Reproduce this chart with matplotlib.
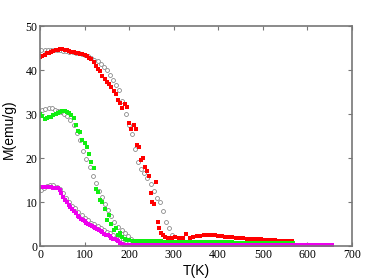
import numpy as np
import matplotlib.pyplot as plt

# red squares (filled)
t_red = [0, 5, 10, 15, 20, 25, 30, 35, 40, 45, 50, 55, 60, 65, 70, 75, 80, 85, 90, 95,
         100, 105, 110, 115, 120, 125, 130, 135, 140, 145, 150, 155, 160, 165, 170, 175,
         180, 185, 190, 195, 200, 205, 210, 215, 218, 222, 226, 230, 235, 240, 245, 248,
         252, 256, 260, 264, 268, 272, 276,
         280, 288, 296, 304, 312, 320, 328, 336, 344, 352, 360, 368, 376, 384, 392, 400,
         408, 416, 424, 432, 440, 448, 456, 464, 472, 480, 488, 496, 504, 512, 520, 528,
         536, 544, 552, 560, 566]
m_red = [43.0, 43.2, 43.5, 43.8, 44.0, 44.2, 44.4, 44.5, 44.6, 44.8, 44.7, 44.6, 44.5, 44.4,
         44.2, 44.1, 44.0, 43.9, 43.7, 43.6, 43.4, 43.2, 42.8, 42.5, 41.8, 41.0, 40.2, 39.8,
         38.6, 38.0, 37.4, 36.8, 36.2, 35.2, 34.6, 33.2, 32.6, 31.4, 32.2, 31.5, 28.0, 26.5,
         27.5, 26.5, 23.0, 22.5, 19.5, 20.0, 18.0, 17.0, 16.0, 12.0, 10.0, 9.5, 14.5, 5.5,
         4.0, 3.0, 2.5,
         2.0, 1.9, 1.8, 2.0, 1.9, 1.8, 2.7, 1.9, 2.0, 2.2, 2.3, 2.5, 2.4, 2.6, 2.4, 2.3,
         2.2, 2.1, 2.0, 2.0, 1.9, 1.8, 1.8, 1.7, 1.6, 1.6, 1.5, 1.5, 1.4, 1.4, 1.3, 1.3,
         1.2, 1.2, 1.2, 1.1, 1.1]

# red open circles
t_red_o = [3, 10, 17, 24, 31, 38, 45, 52, 59, 66, 73, 80, 87, 94, 101, 108, 115, 122, 129,
           136, 143, 150, 157, 164, 171, 178, 185, 192, 199, 206, 213, 220, 227, 234, 241,
           248, 255, 262, 269, 276, 283, 290, 297, 304, 311, 318, 325, 332]
m_red_o = [44.5, 44.6, 44.6, 44.6, 44.6, 44.6, 44.5, 44.4, 44.3, 44.2, 44.1, 44.0, 43.8,
           43.6, 43.4, 43.1, 42.8, 42.4, 42.0, 41.5, 40.8, 40.0, 39.0, 37.8, 36.6, 35.4,
           33.0, 30.0, 27.5, 25.5, 22.0, 19.0, 17.5, 16.5, 15.5, 14.0, 12.5, 11.0, 10.0,
           8.0, 5.5, 4.0, 2.5, 1.6, 1.2, 1.0, 0.9, 0.9]

# green squares
t_grn = [0, 5, 10, 15, 20, 25, 30, 35, 40, 45, 50, 55, 60, 65, 70, 75, 80, 85, 90, 95,
         100, 105, 110, 115, 120, 125, 130, 135, 140, 145, 150, 155, 160, 165, 170, 175,
         180, 185, 190, 195, 200,
         208, 216, 224, 232, 240, 248, 256, 264, 272, 280, 288, 296, 304, 312, 320, 328,
         336, 344, 352, 360, 368, 376, 384, 392, 400, 408, 416, 424, 432, 440, 448, 456,
         464, 472, 480, 488, 496, 504, 512, 520, 528, 536, 544, 552, 560, 568]
m_grn = [30.0, 29.5, 28.8, 29.0, 29.3, 29.4, 29.8, 30.0, 30.3, 30.5, 30.8, 30.6, 30.4, 30.2,
         29.8, 29.0, 27.5, 26.2, 26.0, 24.0, 23.4, 22.5, 21.0, 19.0, 17.7, 13.0, 12.3,
         10.5, 10.0, 8.5, 5.9, 7.0, 5.0, 3.6, 4.0, 2.5, 3.0, 2.0, 1.6, 1.4, 1.3,
         1.2, 1.2, 1.2, 1.2, 1.1, 1.1, 1.1, 1.1, 1.1, 1.0, 1.0, 1.0, 1.0, 1.0, 1.0, 1.0,
         1.0, 0.9, 0.9, 0.9, 0.9, 0.9, 0.9, 0.9, 0.9, 0.9, 0.9, 0.9, 0.9, 0.8, 0.8, 0.8,
         0.8, 0.8, 0.8, 0.8, 0.8, 0.8, 0.8, 0.8, 0.8, 0.8, 0.8, 0.8, 0.8, 0.8]

# green open circles
t_grn_o = [5, 12, 19, 26, 33, 40, 47, 54, 61, 68, 75, 82, 90, 97, 104, 111, 118, 125, 132,
           139, 146, 153, 160, 167, 175, 183, 191, 198, 205, 212, 219, 226, 233, 240, 247,
           254, 261, 268, 275, 282, 289, 296, 303, 310, 317, 324, 331]
m_grn_o = [31.0, 31.2, 31.3, 31.3, 31.0, 30.8, 30.5, 30.1, 29.5, 28.6, 27.5, 25.8, 24.0,
           21.5, 19.8, 18.0, 16.0, 14.3, 12.6, 11.2, 9.5, 8.2, 6.8, 5.5, 4.3, 3.6, 3.0,
           2.2, 1.5, 1.2, 1.0, 0.9, 0.8, 0.8, 0.7, 0.7, 0.7, 0.6, 0.6, 0.6, 0.5, 0.5, 0.5,
           0.5, 0.5, 0.4, 0.4]

# magenta squares
t_mag = [0, 4, 8, 12, 16, 20, 24, 28, 32, 36, 40, 44, 48, 52, 56, 60, 64, 68, 72, 76,
         80, 84, 88, 92, 96, 100, 104, 108, 112, 116, 120, 124, 128, 132, 136, 140, 144,
         148, 152, 156, 160, 164, 168, 172, 176, 180, 184, 188, 192,
         200, 208, 216, 224, 232, 240, 248, 256, 264, 272, 280, 288, 296, 304, 312, 320,
         328, 336, 344, 352, 360, 368, 376, 384, 392, 400, 408, 416, 424, 432, 440, 448,
         456, 464, 472, 480, 488, 496, 504, 512, 520, 528, 536, 544, 552, 560, 568, 576,
         584, 592, 600, 608, 616, 624, 632, 640, 648, 655]
m_mag = [13.4, 13.4, 13.4, 13.4, 13.4, 13.4, 13.4, 13.3, 13.3, 13.3, 13.1, 12.7, 12.0,
         11.2, 10.5, 9.9, 9.4, 8.9, 8.5, 8.0, 7.4, 6.9, 6.5, 6.2, 5.9, 5.6, 5.3, 5.0,
         4.8, 4.6, 4.4, 4.1, 3.8, 3.6, 3.4, 3.1, 2.8, 2.6, 2.4, 2.2, 1.9, 1.7, 1.5, 1.3,
         1.1, 0.7, 0.4, 0.3, 0.2,
         0.2, 0.2, 0.2, 0.2, 0.2, 0.2, 0.2, 0.2, 0.2, 0.2, 0.2, 0.2, 0.2, 0.2, 0.2, 0.2,
         0.2, 0.2, 0.2, 0.2, 0.2, 0.2, 0.2, 0.2, 0.2, 0.2, 0.2, 0.2, 0.2, 0.2, 0.2, 0.2,
         0.2, 0.2, 0.2, 0.2, 0.2, 0.2, 0.2, 0.2, 0.2, 0.2, 0.2, 0.2, 0.2, 0.2, 0.2, 0.2,
         0.2, 0.2, 0.2, 0.2, 0.2, 0.2, 0.2, 0.2, 0.2, 0.2]

# magenta open circles
t_mag_o = [2, 9, 16, 23, 30, 37, 44, 51, 58, 65, 72, 79, 86, 93, 101, 108, 115, 122, 129,
           136, 143, 150, 157, 164, 171, 178, 185, 192, 199, 206, 213, 220, 227, 234, 241,
           248, 255, 262, 269, 276, 283, 290, 297, 304, 311, 318, 325, 332]
m_mag_o = [12.8, 13.3, 13.6, 13.8, 13.8, 13.5, 13.0, 12.0, 11.0, 10.0, 9.2, 8.6, 7.8, 7.1,
           6.4, 5.9, 5.3, 4.9, 4.6, 4.1, 3.7, 3.3, 2.9, 2.5, 1.9, 1.5, 1.0, 0.8, 0.6, 0.4,
           0.3, 0.3, 0.3, 0.3, 0.3, 0.3, 0.3, 0.3, 0.3, 0.3, 0.3, 0.3, 0.3, 0.3, 0.3, 0.3,
           0.3, 0.3]

fig = plt.figure(figsize=(3.82, 2.78), dpi=100)
ax = fig.add_axes([0.105, 0.115, 0.816, 0.791])

circ = dict(ls='none', marker='o', ms=2.8, mfc='white', mec='#808080', mew=0.55)
ax.plot(t_red_o, m_red_o, **circ)
ax.plot(t_grn_o, m_grn_o, **circ)
ax.plot(t_mag_o, m_mag_o, **circ)

sq = dict(ls='none', marker='s', ms=3.0, mew=0)
ax.plot(t_red, m_red, color='#ff0000', **sq)
ax.plot(t_grn, m_grn, color='#11ee11', **sq)
ax.plot(t_mag, m_mag, color='#ee00ee', **sq)

ax.set_xlim(0, 700)
ax.set_ylim(0, 50)
ax.set_xticks(range(0, 701, 100))
ax.set_yticks(range(0, 51, 10))
for s in ax.spines.values():
    s.set_color('#777777')
    s.set_linewidth(1.2)
ax.tick_params(direction='in', length=3, width=0.8, color='#777777',
               top=True, right=True, labelsize=8.5, pad=2)
for lab in ax.get_xticklabels() + ax.get_yticklabels():
    lab.set_family('Liberation Serif')

ax.set_xlabel('T(K)', fontsize=10, family='Liberation Sans', labelpad=2)
ax.set_ylabel('M(emu/g)', fontsize=10, family='Liberation Sans')
ax.yaxis.set_label_coords(-0.078, 0.53)

fig.savefig('out.png', dpi=100)
